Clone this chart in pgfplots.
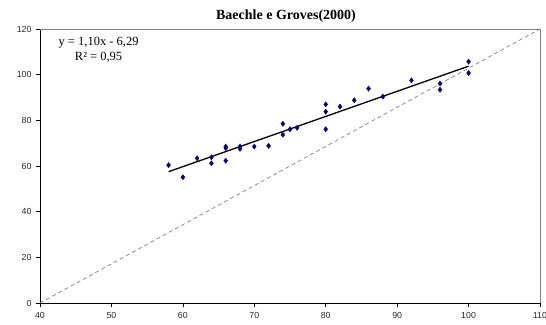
\documentclass[border=0pt]{standalone}
\usepackage{pgfplots}
\pgfplotsset{compat=1.18}
\usepackage{fontspec}
\setmainfont{Liberation Serif}
\newfontfamily\arialf{Liberation Sans}
\definecolor{navy}{HTML}{000080}
\definecolor{gline}{HTML}{808080}
\begin{document}
\begin{tikzpicture}
\begin{axis}[
  name=ax,
  scale only axis,
  width=500bp, height=274bp,
  xmin=40, xmax=110, ymin=0, ymax=120,
  xtick={40,50,...,110}, ytick={0,20,...,120},
  axis lines=left,
  axis line style={-, black, line width=0.8bp},
  tick align=outside,
  major tick length=4bp,
  tick style={black, line width=0.6bp},
  /pgf/number format/assume math mode=true,
  ticklabel style={font=\arialf\fontsize{8.8bp}{10bp}\selectfont, text=black!85},
  xticklabel style={yshift=-2bp},
  yticklabel style={xshift=-1bp},
  clip=false,
]
\draw[gline, line width=0.8bp] (rel axis cs:0,1) -- (rel axis cs:1,1) -- (rel axis cs:1,0);
\addplot[gline, dashed, dash pattern=on 4bp off 3bp, line width=0.7bp] coordinates {(40,0) (110,120)};
\addplot[only marks, mark=diamond*, mark size=2.6bp, color=navy] coordinates {
(58,60.4) (60,55.1) (62,63.4) (64,63.8) (64,61.2)
(66,68.5) (66,67.9) (66,62.3) (68,68.5) (68,67.5)
(70,68.5) (72,68.8) (74,78.5) (74,73.7) (75,76.1)
(76,76.7) (80,87.0) (80,83.8) (80,76.1) (82,86.0)
(84,88.8) (86,93.9) (88,90.4) (92,97.5) (96,96.1)
(96,93.4) (100,105.7) (100,100.7)
};
\addplot[black, line width=1.3bp] coordinates {(58,57.51) (100,103.71)};
\node[align=center, font=\fontsize{12.5bp}{15bp}\selectfont, anchor=north, inner sep=1bp] at (axis cs:48.2,116.8) {y = 1,10x - 6,29\\R² = 0,95};
\end{axis}
\node[font=\bfseries\fontsize{14bp}{16bp}\selectfont] at ([xshift=246bp,yshift=13bp]ax.north west) {Baechle e Groves(2000)};
\pgfresetboundingbox
\useasboundingbox ([xshift=-40bp,yshift=-21bp]ax.south west) rectangle ([xshift=6bp,yshift=29bp]ax.north east);
\end{tikzpicture}
\end{document}
